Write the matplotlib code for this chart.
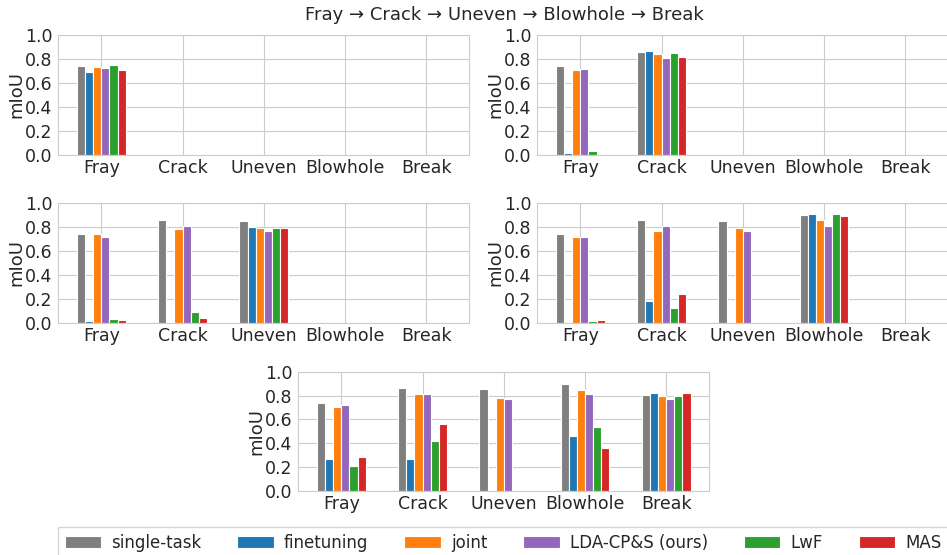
import numpy as np
import matplotlib
matplotlib.use("Agg")
import matplotlib.pyplot as plt
import seaborn as sns

# mIoU, one list per training step (tasks seen so far)
tasks = ["Fray", "Crack", "Uneven", "Blowhole", "Break"]
methods = ["single-task", "finetuning", "joint", "LDA-CP&S (ours)", "LwF", "MAS"]
colors = ["tab:gray", "tab:blue", "tab:orange", "tab:purple", "tab:green", "tab:red"]

single_task = [0.74, 0.86, 0.853, 0.90, 0.806]

finetuning = [
    [0.692],
    [0.017, 0.864],
    [0.014, 0.005, 0.802],
    [0.008, 0.181, 0.0, 0.911],
    [0.268, 0.265, 0.0, 0.461, 0.818],
]
joint = [
    [0.737],
    [0.706, 0.839],
    [0.740, 0.782, 0.793],
    [0.714, 0.772, 0.794, 0.856],
    [0.701, 0.816, 0.782, 0.846, 0.796],
]
lda_cps = [
    [0.726],
    [0.717, 0.811],
    [0.718, 0.813, 0.768],
    [0.719, 0.814, 0.769, 0.814],
    [0.721, 0.816, 0.768, 0.813, 0.771],
]
lwf = [
    [0.750],
    [0.031, 0.847],
    [0.031, 0.087, 0.796],
    [0.011, 0.125, 0.0, 0.911],
    [0.207, 0.416, 0.0, 0.539, 0.793],
]
mas = [
    [0.711],
    [0.011, 0.819],
    [0.020, 0.039, 0.790],
    [0.025, 0.239, 0.0, 0.897],
    [0.282, 0.564, 0.0, 0.363, 0.818],
]

W, H = 947, 555
# axes boxes in pixels: left, top, right, bottom
boxes = [
    (58.3, 35, 469.3, 155),
    (537.3, 35, 948.3, 155),
    (58.3, 203.3, 469.3, 322.7),
    (537.3, 203.3, 948.3, 322.7),
    (298.3, 371.7, 709.3, 491),
]

sns.set_style("whitegrid")
plt.rcParams["font.family"] = ["DejaVu Sans"]

fig = plt.figure(figsize=(W / 100, H / 100), dpi=100)

x = np.arange(len(tasks))
width = 0.1
handles = []
for step, (l, t, r, b) in enumerate(boxes):
    ax = fig.add_axes([l / W, (H - b) / H, (r - l) / W, (b - t) / H])
    n = step + 1
    series = [
        single_task[:n],
        finetuning[step],
        joint[step],
        lda_cps[step],
        lwf[step],
        mas[step],
    ]
    for i, (vals, c) in enumerate(zip(series, colors)):
        h = np.full(len(tasks), np.nan)
        h[:n] = vals
        h[h == 0] = np.nan
        bars = ax.bar(x + (i - 2.5) * width, h, width, color=c,
                      edgecolor="white", linewidth=0.8, label=methods[i])
        if step == 0:
            handles.append(bars)
    ax.set_xlim(-0.53, 4.53)
    ax.set_ylim(0, 1.0)
    ax.set_yticks(np.arange(0, 1.01, 0.2))
    ax.set_xticks(x)
    ax.set_xticklabels(tasks, fontsize=12.5)
    ax.tick_params(axis="y", labelsize=12.5, length=0, pad=4)
    ax.tick_params(axis="x", length=0, pad=3)
    ax.set_ylabel("mIoU", fontsize=13, labelpad=0)

fig.text(504 / W, 1 - 15 / H, "Fray \u2192 Crack \u2192 Uneven \u2192 Blowhole \u2192 Break",
         ha="center", va="center", fontsize=13, color=".15")

fig.legend(handles, methods, loc="upper center", bbox_to_anchor=(503 / W, 1 - 527 / H),
           ncol=6, fontsize=12, frameon=True, handlelength=2.2, handletextpad=0.6,
           columnspacing=2.15, borderaxespad=0, fancybox=False)

fig.savefig("out.png", dpi=100)
